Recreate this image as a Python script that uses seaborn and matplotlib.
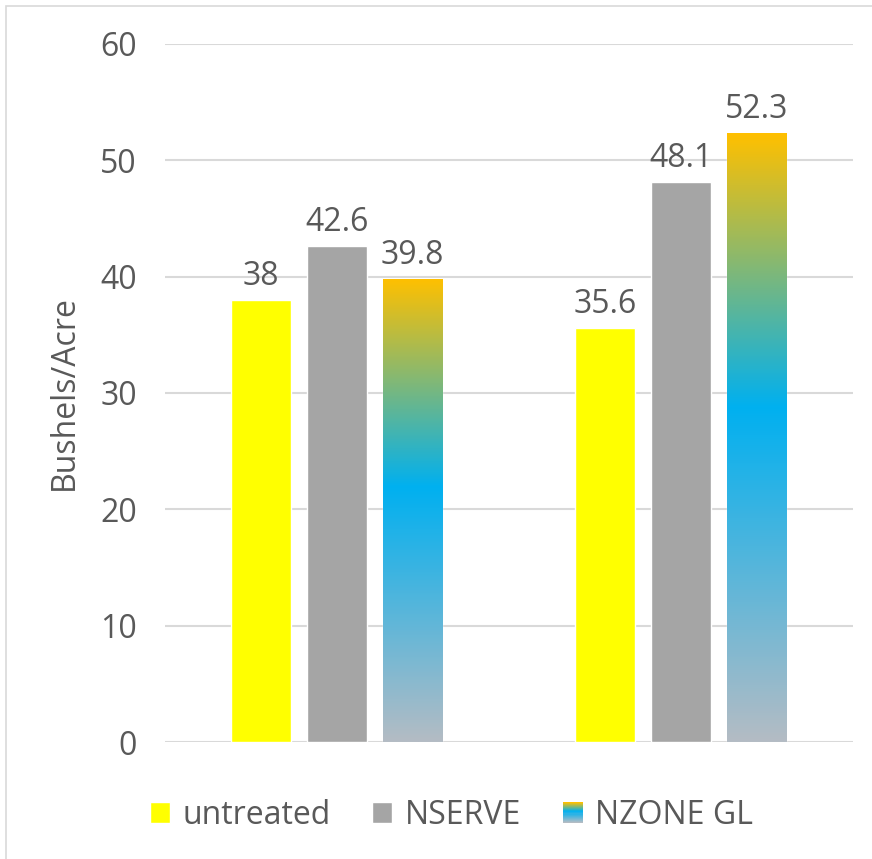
import matplotlib
matplotlib.use("Agg")
import matplotlib.pyplot as plt
import seaborn as sns
import pandas as pd
import numpy as np
from matplotlib.colors import LinearSegmentedColormap
from matplotlib.patches import Rectangle
from matplotlib.legend_handler import HandlerBase

# data
groups = ["Site 1", "Site 2"]
treatments = ["untreated", "NSERVE", "NZONE GL"]
untreated = [38, 35.6]
nserve = [42.6, 48.1]
nzone_gl = [39.8, 52.3]

colors = {"untreated": "#FFFF00", "NSERVE": "#A5A5A5", "NZONE GL": "#00B0F0"}
text_color = "#595959"
grad = LinearSegmentedColormap.from_list(
    "nzone", [(0.0, "#B4BCC4"), (0.55, "#00B0F0"), (1.0, "#FFC000")])

df = pd.DataFrame({
    "group": groups * 3,
    "treatment": [t for t in treatments for _ in groups],
    "value": untreated + nserve + nzone_gl,
})

sns.set_style("white")
plt.rcParams["font.family"] = ["Open Sans", "DejaVu Sans"]
fs = 23

fig = plt.figure(figsize=(8.72, 8.59), dpi=100)
ax = fig.add_axes([0.189, 0.136, 0.789, 0.813])

sns.barplot(data=df, x="group", y="value", hue="treatment", hue_order=treatments,
            palette=colors, width=0.66, gap=0.21, ax=ax, legend=False,
            saturation=1, errorbar=None)

ax.set_ylim(0, 60)
ax.set_xlim(-0.5, 1.5)
ax.set_yticks(range(0, 61, 10))
ax.yaxis.grid(True, color="#D9D9D9", linewidth=1.5)
ax.set_axisbelow(True)
for s in ax.spines.values():
    s.set_visible(False)
ax.set_xticks([0, 1])
ax.set_xticklabels(["", ""])
ax.tick_params(axis="both", length=0, labelsize=fs, colors=text_color, pad=20)
ax.set_xlabel("")
ax.set_ylabel("Bushels/Acre", fontsize=fs, color=text_color, labelpad=14)

# gradient fill for NZONE GL bars + labels
gvals = np.linspace(0, 1, 256).reshape(-1, 1)
nz_rgb = matplotlib.colors.to_rgb(colors["NZONE GL"])
for cont in ax.containers:
    for bar in cont:
        h = bar.get_height()
        x0 = bar.get_x()
        w = bar.get_width()
        if tuple(bar.get_facecolor()[:3]) == nz_rgb:
            bar.set_facecolor("none")
            im = ax.imshow(gvals, cmap=grad, origin="lower", aspect="auto",
                           extent=(x0, x0 + w, 0, h), zorder=bar.get_zorder())
            im.set_clip_path(bar)
        ax.annotate(f"{h:g}", (x0 + w / 2, h), xytext=(0, 5), textcoords="offset points",
                    ha="center", va="bottom", fontsize=fs, color=text_color)
ax.set_xlim(-0.5, 1.5)
ax.set_ylim(0, 60)


class GradientHandler(HandlerBase):
    def create_artists(self, legend, orig_handle, xdescent, ydescent, width, height, fontsize, trans):
        arts = []
        n = 20
        for i in range(n):
            r = Rectangle((-xdescent, -ydescent + height * i / n), width, height / n + 0.3,
                          facecolor=grad(i / (n - 1)), edgecolor="none", transform=trans)
            arts.append(r)
        return arts


handles = [Rectangle((0, 0), 1, 1, facecolor=colors["untreated"]),
           Rectangle((0, 0), 1, 1, facecolor=colors["NSERVE"]),
           Rectangle((0, 0), 1, 1, facecolor=colors["NZONE GL"])]
fig.legend(handles, treatments, loc="center", bbox_to_anchor=(0.518, 0.051), ncol=3,
           frameon=False, fontsize=fs, labelcolor=text_color,
           handler_map={handles[2]: GradientHandler()},
           handlelength=0.62, handleheight=0.62, handletextpad=0.4, columnspacing=1.3)

# chart border
fig.patches.append(Rectangle((6 / 872, -0.02), 1.05, 1 - 6 / 859 + 0.02, transform=fig.transFigure,
                             facecolor="none", edgecolor="#D9D9D9", linewidth=1.2))

fig.savefig("out.png", dpi=100)
